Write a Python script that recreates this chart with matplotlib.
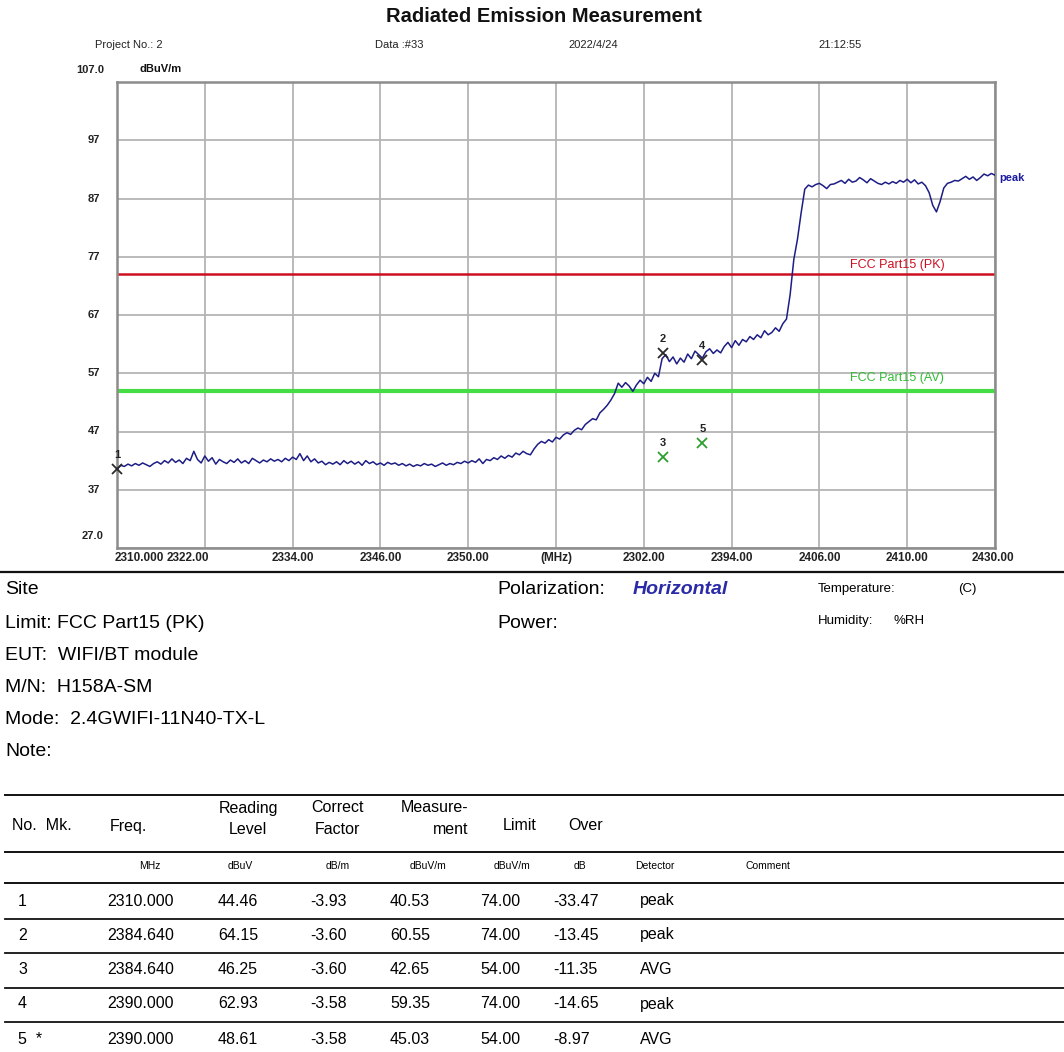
import numpy as np
import matplotlib
matplotlib.use("Agg")
import matplotlib.pyplot as plt
import matplotlib.transforms as mtransforms

plt.rcParams['font.family'] = ['Liberation Sans', 'DejaVu Sans']

# ---------------- data ----------------
FREQ_START = 2310.0
FREQ_STEP = 0.5
peak_trace = [
    40.5, 41.2, 41.0, 41.4, 41.1, 41.5, 41.2, 41.6, 41.3, 41.0,
    41.5, 41.8, 41.4, 42.0, 41.6, 42.3, 41.7, 42.1, 41.5, 42.4,
    42.0, 43.6, 42.2, 41.6, 42.8, 41.9, 42.5, 41.4, 42.2, 41.8,
    41.5, 42.1, 41.7, 42.3, 41.6, 42.0, 41.5, 42.4, 42.0, 41.6,
    42.1, 41.8, 42.3, 41.9, 42.2, 41.8, 42.4, 42.0, 42.6, 42.2,
    43.2, 42.0, 42.8, 41.8, 42.3, 41.6, 41.9, 41.3, 41.7, 41.4,
    41.8, 41.3, 42.0, 41.5, 41.9, 41.4, 41.8, 41.2, 42.0, 41.5,
    41.8, 41.3, 41.6, 41.2, 41.7, 41.4, 41.6, 41.2, 41.5, 41.1,
    41.4, 41.0, 41.3, 41.1, 41.5, 41.2, 41.4, 41.0, 41.3, 41.6,
    41.2, 41.5, 41.3, 41.7, 41.5, 41.9, 41.6, 42.0, 41.7, 42.3,
    41.5, 42.2, 42.0, 42.5, 42.2, 42.8, 42.4, 42.9, 42.6, 43.3,
    43.0, 43.6, 43.2, 43.0, 44.0, 44.8, 45.3, 45.0, 45.6, 45.2,
    46.0, 45.7, 46.4, 46.8, 46.5, 47.2, 47.6, 47.3, 48.2, 48.7,
    49.2, 49.0, 50.2, 50.8, 51.5, 52.4, 53.5, 55.3, 54.6, 55.4,
    54.8, 53.9, 55.0, 55.8, 55.2, 56.3, 55.6, 57.0, 56.4, 59.5,
    60.2, 59.0, 59.8, 58.6, 59.6, 58.9, 60.3, 59.5, 60.8, 60.2,
    59.6, 60.7, 61.2, 60.4, 61.0, 60.5, 61.6, 62.3, 61.4, 62.6,
    61.8, 62.8, 62.4, 63.3, 62.8, 63.6, 63.1, 64.3, 63.6, 64.0,
    64.8, 64.2, 65.5, 66.3, 70.5, 76.5, 80.0, 84.5, 88.6, 89.3,
    89.0, 89.4, 89.6, 89.2, 88.7, 89.4, 89.5, 89.8, 90.1, 89.6,
    90.3, 89.8, 90.0, 90.6, 90.2, 89.7, 90.4, 90.0, 89.6, 89.4,
    89.8, 89.5, 89.9, 89.6, 90.1, 89.8, 90.3, 89.7, 90.2, 89.5,
    89.8, 89.2, 88.0, 85.8, 84.7, 86.5, 88.8, 89.6, 89.8, 90.1,
    90.0, 90.4, 90.8, 90.3, 90.7, 90.1, 90.6, 91.2, 90.9, 91.3,
    91.0,
]

limit_pk = 74.0
limit_av = 54.0

marker_no = ["1", "2", "3", "4", "5"]
marker_freq = [2310.000, 2384.640, 2384.640, 2390.000, 2390.000]
marker_meas = [40.53, 60.55, 42.65, 59.35, 45.03]
marker_det = ["peak", "peak", "AVG", "peak", "AVG"]

x_ticks = [2310, 2322, 2334, 2346, 2358, 2370, 2382, 2394, 2406, 2418, 2430]
x_tick_labels = ["2310.000", "2322.00", "2334.00", "2346.00", "2350.00", "(MHz)",
                 "2302.00", "2394.00", "2406.00", "2410.00", "2430.00"]
y_ticks = [27, 37, 47, 57, 67, 77, 87, 97, 107]
y_tick_labels = ["27.0", "37", "47", "57", "67", "77", "87", "97", "107.0"]

tbl_no = ["1", "2", "3", "4", "5  *"]
tbl_freq = ["2310.000", "2384.640", "2384.640", "2390.000", "2390.000"]
tbl_reading = ["44.46", "64.15", "46.25", "62.93", "48.61"]
tbl_factor = ["-3.93", "-3.60", "-3.60", "-3.58", "-3.58"]
tbl_meas = ["40.53", "60.55", "42.65", "59.35", "45.03"]
tbl_limit = ["74.00", "74.00", "54.00", "74.00", "54.00"]
tbl_over = ["-33.47", "-13.45", "-11.35", "-14.65", "-8.97"]
tbl_det = ["peak", "peak", "AVG", "peak", "AVG"]

# ---------------- figure ----------------
W, H = 1064, 1052
fig = plt.figure(figsize=(W / 100, H / 100), dpi=100)
fig.patch.set_facecolor("white")


def fx(x):
    return x / W


def fy(y):
    return 1 - y / H


def ftext(x, y, s, **kw):
    kw.setdefault("va", "center")
    kw.setdefault("ha", "left")
    fig.text(fx(x), fy(y), s, **kw)


# header
ftext(544, 16, "Radiated Emission Measurement", ha="center", fontsize=14.5, fontweight="bold", color="#111111")
ftext(95, 45, "Project No.: 2", fontsize=8, color="#222222")
ftext(375, 45, "Data :#33", fontsize=8, color="#222222")
ftext(568, 45, "2022/4/24", fontsize=8, color="#222222")
ftext(818, 45, "21:12:55", fontsize=8, color="#222222")

# main axes
left, right, top, bottom = 117, 995, 82, 548
ax = fig.add_axes([fx(left), fy(bottom), fx(right - left), (bottom - top) / H])
freqs = FREQ_START + FREQ_STEP * np.arange(len(peak_trace))
ax.set_xlim(2310, 2430)
ax.set_ylim(27, 107)
ax.set_xticks(x_ticks)
ax.set_yticks(y_ticks)
ax.grid(True, color="#b4b4b4", linewidth=1.3)
ax.set_axisbelow(True)
for sp in ax.spines.values():
    sp.set_color("#8c8c8c")
    sp.set_linewidth(1.8)
ax.tick_params(length=0, labelleft=False, labelbottom=False)

ax.axhline(limit_pk, color="#cc1020", linewidth=1.8, zorder=2)
ax.axhline(limit_av, color="#44dd44", linewidth=3.0, zorder=2)
ax.plot(freqs, peak_trace, color="#1d1d86", linewidth=1.1, zorder=3)

ax.text(2416.6, limit_pk + 1.6, "FCC Part15 (PK)", color="#cc1020", fontsize=9, ha="center", va="center")
ax.text(2416.6, limit_av + 2.2, "FCC Part15 (AV)", color="#33bb33", fontsize=9, ha="center", va="center")
ax.text(2430.6, peak_trace[-1] - 0.5, "peak", color="#1a1aa0", fontsize=8, fontweight="bold",
        ha="left", va="center", clip_on=False)

for no, f, m, d in zip(marker_no, marker_freq, marker_meas, marker_det):
    col = "#2a2a2a" if d == "peak" else "#2e9e2e"
    ax.plot([f], [m], marker="x", color=col, markersize=7, mew=1.3, zorder=5, clip_on=False)
    ax.annotate(no, (f, m), xytext=(0, 10), textcoords="offset points", ha="center", va="center",
                fontsize=8, fontweight="bold", color="#222222", zorder=6)

# y tick labels
ytr = mtransforms.blended_transform_factory(fig.transFigure, ax.transData)
for v, lab in zip(y_ticks, y_tick_labels):
    dy = 2.0 if lab in ("107.0", "27.0") else 0
    x0 = fx(104) if lab in ("107.0", "27.0") else fx(100)
    ax.text(x0, v + dy, lab, transform=ytr, ha="right", va="center", fontsize=8, fontweight="bold",
            color="#222222")
ftext(140, 69, "dBuV/m", fontsize=8, fontweight="bold", color="#111111")

# x tick labels
xtr = mtransforms.blended_transform_factory(ax.transData, fig.transFigure)
for i, (v, lab) in enumerate(zip(x_ticks, x_tick_labels)):
    ha = "center"
    xv = v
    if i == 0:
        ha = "left"
        xv = v - 0.3
    elif i == 1:
        xv = v - 2.3
    elif i == len(x_ticks) - 1:
        xv = v - 0.3
    ax.text(xv, fy(558), lab, transform=xtr, ha=ha, va="center", fontsize=8.5, fontweight="bold",
            color="#222222")


# separator lines
def hline(y, lw=1.5, x0=0, x1=W, color="#111111"):
    fig.add_artist(plt.Line2D([fx(x0), fx(x1)], [fy(y), fy(y)], color=color, linewidth=lw))


hline(572, lw=1.6)

# info block
fs_info = 14
ftext(5, 590, "Site", fontsize=fs_info)
ftext(5, 623, "Limit: FCC Part15 (PK)", fontsize=fs_info)
ftext(5, 656, "EUT:  WIFI/BT module", fontsize=fs_info)
ftext(5, 688, "M/N:  H158A-SM", fontsize=fs_info)
ftext(5, 720, "Mode:  2.4GWIFI-11N40-TX-L", fontsize=fs_info)
ftext(5, 752, "Note:", fontsize=fs_info)
ftext(497, 590, "Polarization:", fontsize=fs_info)
ftext(633, 590, "Horizontal", fontsize=fs_info, fontweight="bold", style="italic", color="#2b2ba8")
ftext(497, 623, "Power:", fontsize=fs_info)
ftext(818, 589, "Temperature:", fontsize=9.5)
ftext(958, 589, "(C)", fontsize=9.5)
ftext(818, 621, "Humidity:", fontsize=9.5)
ftext(893, 621, "%RH", fontsize=9.5)

# table
hline(795, lw=1.4, x0=5)
hline(852, lw=1.4, x0=5)
hline(883, lw=1.4, x0=5)
fs_t = 11.5
ftext(12, 826, "No.  Mk.", fontsize=fs_t)
ftext(128, 826, "Freq.", fontsize=fs_t, ha="center")
ftext(248, 808, "Reading", fontsize=fs_t, ha="center")
ftext(248, 830, "Level", fontsize=fs_t, ha="center")
ftext(337, 808, "Correct", fontsize=fs_t, ha="center")
ftext(337, 830, "Factor", fontsize=fs_t, ha="center")
ftext(468, 808, "Measure-", fontsize=fs_t, ha="right")
ftext(468, 830, "ment", fontsize=fs_t, ha="right")
ftext(520, 826, "Limit", fontsize=fs_t, ha="center")
ftext(586, 826, "Over", fontsize=fs_t, ha="center")

fs_u = 7.5
for xx, s in [(150, "MHz"), (240, "dBuV"), (338, "dB/m"), (428, "dBuV/m"), (512, "dBuV/m"),
              (580, "dB"), (655, "Detector"), (768, "Comment")]:
    ftext(xx, 866, s, fontsize=fs_u, ha="center")

row_y = [901, 935, 970, 1004, 1039]
for i, y in enumerate(row_y):
    ftext(18, y, tbl_no[i], fontsize=fs_t)
    ftext(107, y, tbl_freq[i], fontsize=fs_t)
    ftext(218, y, tbl_reading[i], fontsize=fs_t)
    ftext(310, y, tbl_factor[i], fontsize=fs_t)
    ftext(390, y, tbl_meas[i], fontsize=fs_t)
    ftext(480, y, tbl_limit[i], fontsize=fs_t)
    ftext(553, y, tbl_over[i], fontsize=fs_t)
    ftext(640, y, tbl_det[i], fontsize=fs_t)
    if i < len(row_y) - 1:
        hline(y + 17.5, lw=1.3, x0=5)

fig.savefig("out.png", dpi=100, facecolor="white")
